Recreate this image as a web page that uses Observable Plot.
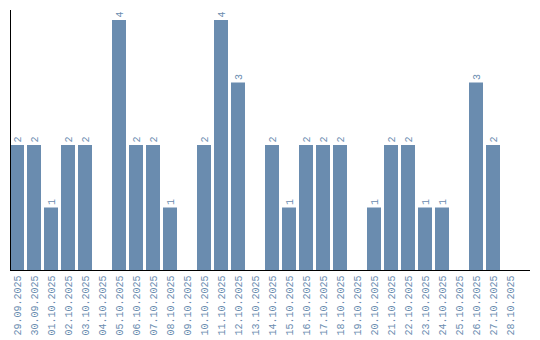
<!DOCTYPE html>
<html>
<head>
<meta charset="utf-8">
<script src="https://cdn.jsdelivr.net/npm/d3@7"></script>
<script src="https://cdn.jsdelivr.net/npm/@observablehq/plot@0.6"></script>
<style>
  html, body { margin: 0; padding: 0; background: #fff; }
  #chart svg { display: block; }
</style>
</head>
<body>
<div id="chart"></div>
<script>
const dates = ["29.09.2025","30.09.2025","01.10.2025","02.10.2025","03.10.2025","04.10.2025","05.10.2025","06.10.2025","07.10.2025","08.10.2025","09.10.2025","10.10.2025","11.10.2025","12.10.2025","13.10.2025","14.10.2025","15.10.2025","16.10.2025","17.10.2025","18.10.2025","19.10.2025","20.10.2025","21.10.2025","22.10.2025","23.10.2025","24.10.2025","25.10.2025","26.10.2025","27.10.2025","28.10.2025"];
const counts = [2,2,1,2,2,0,4,2,2,1,0,2,4,3,0,2,1,2,2,2,0,1,2,2,1,1,0,3,2,0];

const data = dates.map((d, i) => ({date: d, value: counts[i]}));
const color = "#6a8caf";
const font = "Liberation Mono";

const plot = Plot.plot({
  width: 540,
  height: 340,
  marginTop: 10,
  marginLeft: 10,
  marginRight: 10,
  marginBottom: 70,
  style: {fontFamily: font, fontSize: "10px", background: "#fff"},
  x: {domain: dates, paddingInner: 0.176, paddingOuter: 0.38, align: 0, label: null},
  y: {domain: [0, 4.16], axis: null},
  marks: [
    Plot.barY(data, {x: "date", y: "value", fill: color}),
    Plot.text(data.filter(d => d.value > 0), {
      x: "date", y: "value", text: d => String(d.value),
      rotate: -90, textAnchor: "start", dy: -3, fill: color,
      fontFamily: font, fontSize: 10
    }),
    Plot.axisX({tickSize: 0, tickPadding: 5, tickRotate: -90, color: color, label: null, fontSize: 10, fontFamily: font}),
    Plot.ruleY([0], {stroke: "#000"})
  ]
});

// left axis line drawn from the y scale
const ys = plot.scale("y");
d3.select(plot).append("line")
  .attr("x1", 10.5).attr("x2", 10.5)
  .attr("y1", ys.apply(4.16)).attr("y2", ys.apply(0))
  .attr("stroke", "#000");

document.getElementById("chart").appendChild(plot);
</script>
</body>
</html>
